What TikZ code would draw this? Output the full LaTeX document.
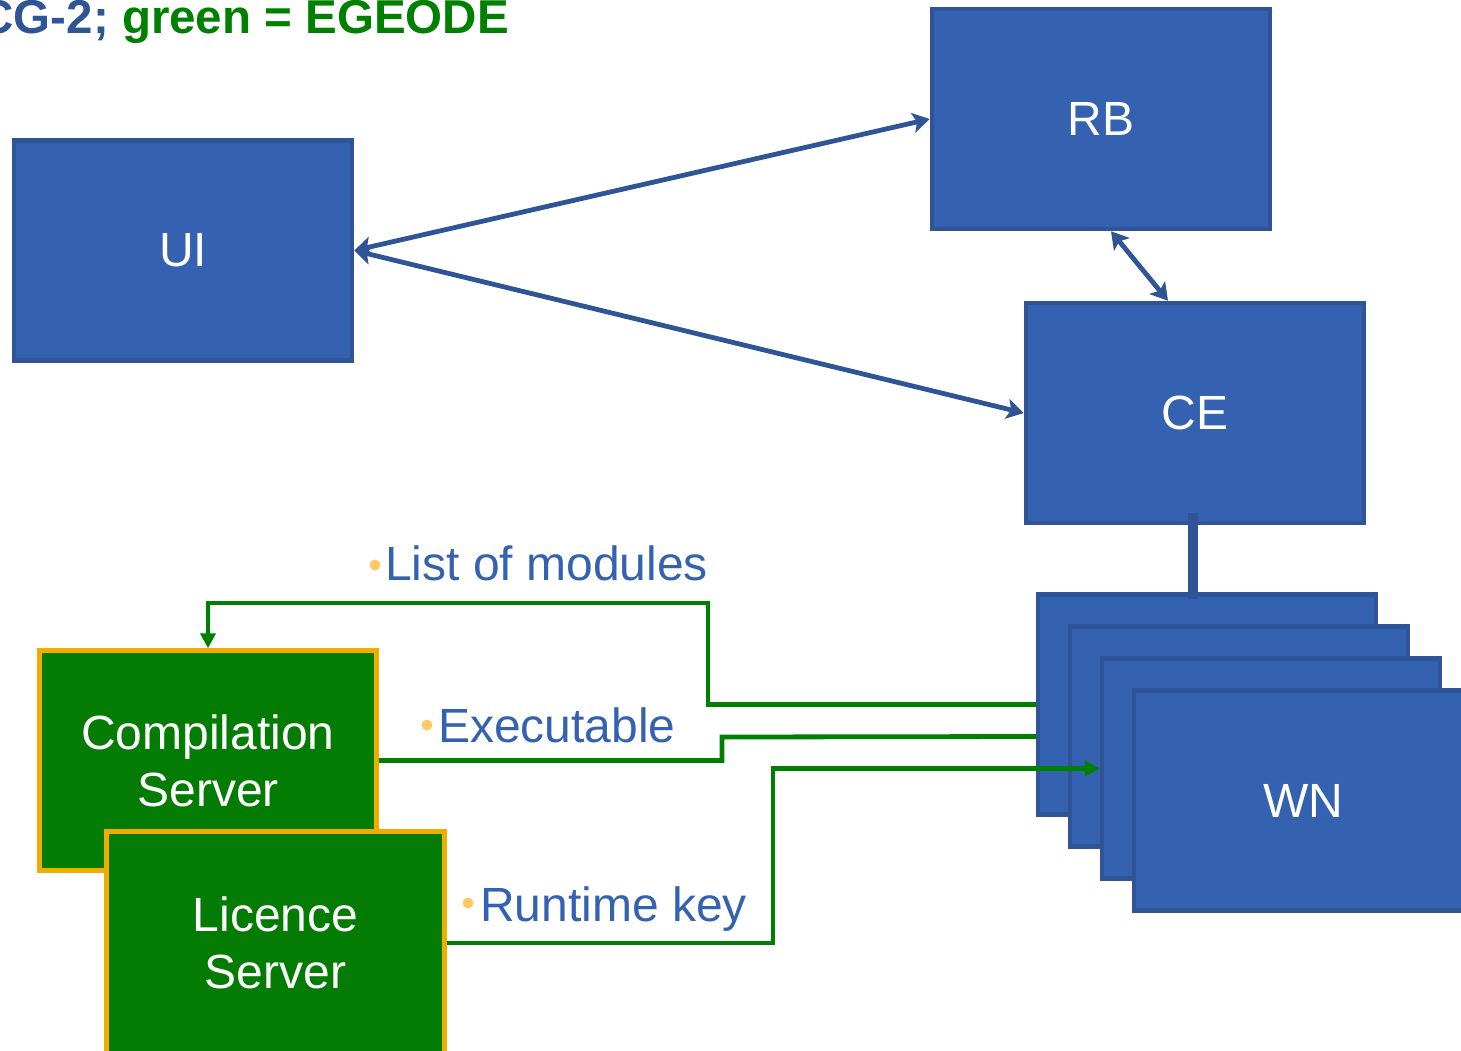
\documentclass[tikz,border=0pt]{standalone}
\usepackage{fontspec}
\setmainfont{Liberation Sans}
\usetikzlibrary{arrows.meta}
\definecolor{bfill}{RGB}{52,97,176}
\definecolor{bline}{RGB}{47,85,151}
\definecolor{gfill}{RGB}{4,124,4}
\definecolor{gline}{RGB}{0,128,0}
\definecolor{obord}{RGB}{240,173,0}
\definecolor{bullc}{RGB}{255,200,100}
\definecolor{tblue}{RGB}{52,97,176}
\definecolor{ttblue}{RGB}{47,85,151}
\begin{document}
\begin{tikzpicture}[x=1pt,y=-1pt,
  bbox/.style={draw=bline, fill=bfill, line width=4.5pt, minimum width=338pt, minimum height=220pt, inner sep=0pt, text=white, font=\fontsize{48}{57}\selectfont},
  gbox/.style={draw=obord, fill=gfill, line width=4.5pt, minimum width=337pt, minimum height=220pt, inner sep=0pt, text=white, align=center, font=\fontsize{48}{57}\selectfont},
  barrow/.style={draw=bline, line width=4.8pt, {Stealth[length=17pt,width=20pt,inset=4pt]}-{Stealth[length=17pt,width=20pt,inset=4pt]}},
  gconn/.style={draw=gline, line width=4.8pt},
  gtip/.style={-{Triangle[length=15pt,width=15pt]}},
  lbl/.style={anchor=base west, text=tblue, font=\fontsize{48}{57}\selectfont, inner sep=0pt},
  celine/.style={draw=bline, line width=10pt}
]
\useasboundingbox (0,0) rectangle (1461,1050);
\clip (0,0) rectangle (1461,1050);

% title (cut off at the left, as in the reference)
\node[anchor=base east, inner sep=0pt, font=\fontsize{47.5}{57}\selectfont\bfseries] (title) at (509,33)
  {\textcolor{ttblue}{CG-2;} \textcolor{gline}{green = EGEODE}};

% blue boxes
\node[bbox] (UI) at (183,250.5) {UI};
\node[bbox] (RB) at (1101,119) {RB};
\node[bbox] (CE) at (1195,413) {CE};

% blue connectors
\draw[barrow] (UI.east) -- (RB.west);
\draw[barrow] (UI.east) -- (CE.west);
\draw[barrow] ([xshift=10pt]RB.south) -- ([xshift=-27pt]CE.north);

% green servers
\node[gbox] (CS) at (208,760.5) {Compilation\\Server};
\node[gbox, minimum width=338pt, minimum height=223pt] (LS) at (275.5,943) {Licence\\Server};

% worker nodes
\node[bbox] (WN1) at (1207,704.5) {};
\node[bbox] (WN2) at (1239,736.5) {};
\node[bbox] (WN3) at (1271,768.5) {};
\node[bbox] (WN4) at (1303,800.5) {WN};

\draw[celine] ([xshift=-2pt,yshift=12pt]CE.south) -- ([xshift=-14pt,yshift=-7pt]WN1.north);

% green connectors
\draw[gconn,gtip] (WN1.west) -| (708,603) -| (CS.north);
\draw[gconn] (CS.east) -| (722,737) -- (WN1.west |- WN2.west);
\draw[gconn,gtip] (LS.east) -| (773,768.5) -- (WN3.west);

% labels
\node[lbl] (l1) at (385,580) {List of modules};
\node[lbl] (l2) at (438,742) {Executable};
\node[lbl] (l3) at (480,921) {Runtime key};
\fill[bullc] (375,565) circle (5.5pt);
\fill[bullc] (427,725) circle (5.5pt);
\fill[bullc] (468,903) circle (5.5pt);
\end{tikzpicture}
\end{document}
